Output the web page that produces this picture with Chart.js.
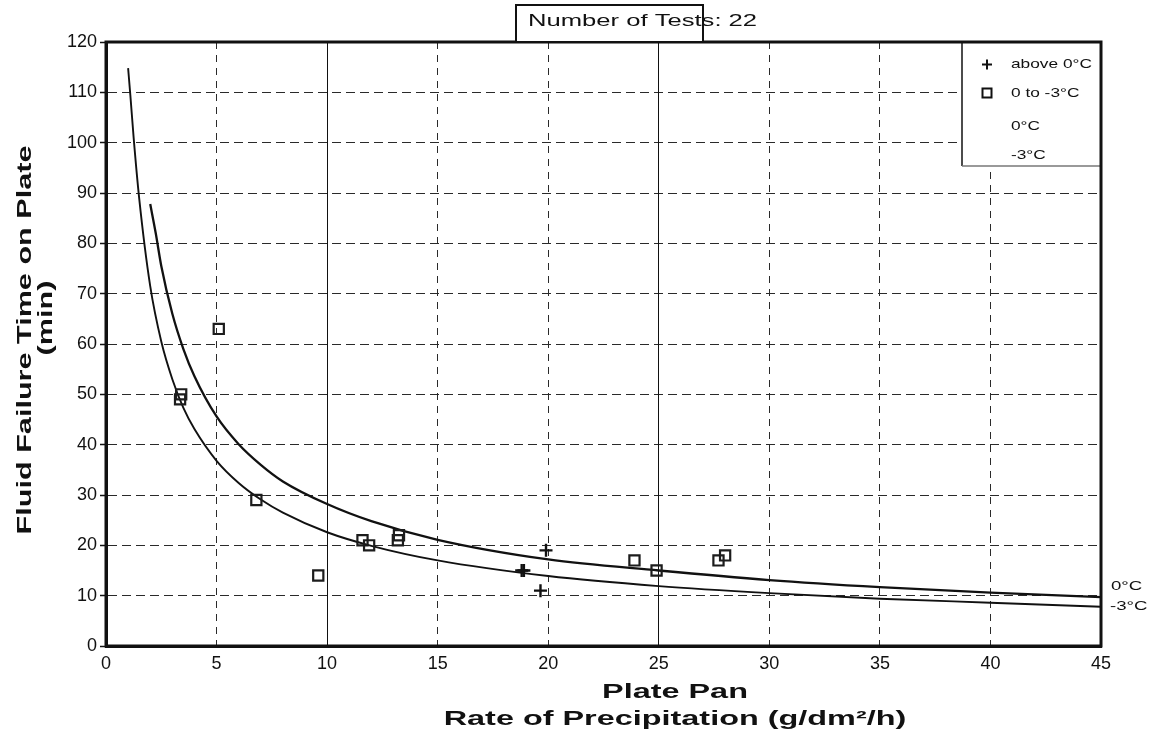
<!DOCTYPE html>
<html>
<head>
<meta charset="utf-8">
<script src="https://cdn.jsdelivr.net/npm/chart.js@4.4.1/dist/chart.umd.min.js"></script>
<style>
  html, body { margin: 0; padding: 0; background: #fff; }
  #wrap { width: 1151px; height: 737px; position: relative; }
</style>
</head>
<body>
<div id="wrap"><canvas id="c"></canvas></div>
<script>
// ---- data ----
const titleText = 'Number of Tests: 22';
const xTitleLines = ['Plate Pan', 'Rate of Precipitation (g/dm²/h)'];
const yTitleLines = ['Fluid Failure Time on Plate', '(min)'];

const seriesLabels = ['above 0°C', '0 to -3°C', '0°C', '-3°C'];

const aboveX = [18.8, 18.9, 19.65, 19.9];
const aboveY = [15, 15, 11, 19];

const belowX = [3.35, 3.4, 5.1, 6.8, 9.6, 11.6, 11.9, 13.2, 13.25, 23.9, 24.9, 27.7, 28.0];
const belowY = [49, 50, 63, 29, 14, 21, 20, 21, 22, 17, 15, 17, 18];

const curve0X = [2, 2.25, 2.5, 3, 3.5, 4, 5, 6, 7, 8, 10, 12, 15, 20, 25, 30, 35, 40, 45];
const curve0Y = [87.8, 82, 75.5, 66, 59, 53.6, 45.6, 40.1, 36.0, 32.7, 28.2, 24.8, 21.1, 17.2, 15.0, 13.1, 11.7, 10.6, 9.7];

const curve3X = [1, 1.1, 1.25, 1.5, 2, 2.5, 3, 3.5, 4, 5, 6, 7, 8, 10, 12, 15, 20, 25, 30, 35, 40, 45];
const curve3Y = [114.8, 109.5, 101, 89, 71.5, 60.5, 53, 47.3, 43.1, 36.8, 32.4, 29.1, 26.5, 22.6, 19.9, 17.0, 13.9, 11.9, 10.5, 9.4, 8.6, 7.8];

const xTickValues = [0, 5, 10, 15, 20, 25, 30, 35, 40, 45];
const yTickValues = [0, 10, 20, 30, 40, 50, 60, 70, 80, 90, 100, 110, 120];
const solidGridX = [10, 25];

// ---- helpers ----
const FONT = '"Liberation Sans", Arial, Helvetica, sans-serif';
const INK = '#111';
const GRID = '#2a2a2a';
const toPts = (xs, ys) => xs.map((x, i) => ({ x: x, y: ys[i] }));

function stretchText(ctx, text, x, y, size, bold, sx, align, rot) {
  ctx.save();
  ctx.translate(x, y);
  if (rot) ctx.rotate(rot);
  ctx.scale(sx, 1);
  ctx.font = (bold ? 'bold ' : '') + size + 'px ' + FONT;
  ctx.textAlign = align;
  ctx.textBaseline = 'middle';
  ctx.fillStyle = INK;
  ctx.fillText(text, 0, 0);
  ctx.restore();
}

const decorPlugin = {
  id: 'decor',
  beforeDatasetsDraw(chart) {
    const { ctx, chartArea: a, scales: { x } } = chart;
    ctx.save();
    ctx.strokeStyle = INK;
    ctx.lineWidth = 1;
    solidGridX.forEach(v => {
      const px = Math.round(x.getPixelForValue(v) - 0.5) + 0.5;
      ctx.beginPath();
      ctx.moveTo(px, a.top);
      ctx.lineTo(px, a.bottom);
      ctx.stroke();
    });
    ctx.restore();
  },
  afterDatasetsDraw(chart) {
    const { ctx, chartArea: a, scales: { x, y } } = chart;
    const ds = chart.data.datasets;
    ctx.save();
    // legend box (inside plot, top-right)
    const lx = 962, ly = a.top, lw = a.right - 962, lh = 124;
    ctx.fillStyle = '#fff';
    ctx.fillRect(lx, ly, lw, lh);
    ctx.strokeStyle = INK;
    ctx.lineWidth = 1.5;
    ctx.beginPath();
    ctx.moveTo(lx, ly); ctx.lineTo(lx, ly + lh);
    ctx.stroke();
    ctx.strokeStyle = '#777';
    ctx.lineWidth = 1.5;
    ctx.beginPath();
    ctx.moveTo(lx, ly + lh); ctx.lineTo(a.right, ly + lh);
    ctx.stroke();
    const rows = [64.5, 93, 126, 155];
    ds.forEach((d, i) => {
      const cy = rows[i];
      const cx = 987;
      ctx.strokeStyle = INK;
      ctx.lineWidth = 2;
      if (d.pointStyle === 'cross') {
        ctx.beginPath();
        ctx.moveTo(cx - 5, cy); ctx.lineTo(cx + 5, cy);
        ctx.moveTo(cx, cy - 5); ctx.lineTo(cx, cy + 5);
        ctx.stroke();
      } else if (d.pointStyle === 'rect') {
        ctx.strokeRect(cx - 4.5, cy - 4.5, 9, 9);
      }
      stretchText(ctx, d.label, 1011, cy, 13.5, false, 1.28, 'left', 0);
    });
    // frame
    ctx.strokeStyle = INK;
    ctx.lineWidth = 3;
    ctx.strokeRect(a.left, a.top, a.right - a.left, a.bottom - a.top);
    // curve end labels
    const c0 = ds[2].data[ds[2].data.length - 1];
    const c3 = ds[3].data[ds[3].data.length - 1];
    stretchText(ctx, ds[2].label, 1111, y.getPixelForValue(c0.y) - 11, 13.5, false, 1.38, 'left', 0);
    stretchText(ctx, ds[3].label, 1110, y.getPixelForValue(c3.y) + 0, 13.5, false, 1.38, 'left', 0);
    ctx.restore();
  },
  afterDraw(chart) {
    const { ctx, chartArea: a } = chart;
    ctx.save();
    // title box
    ctx.fillStyle = '#fff';
    ctx.fillRect(516, 5, 187, a.top - 5);
    stretchText(ctx, titleText, 528, 22, 16, false, 1.6, 'left', 0);
    ctx.strokeStyle = INK;
    ctx.lineWidth = 2;
    ctx.strokeRect(516, 5, 187, a.top - 5);
    // axis titles (stretched like the original)
    const xc = 675;
    stretchText(ctx, xTitleLines[0], xc, 692, 20, true, 1.62, 'center', 0);
    stretchText(ctx, xTitleLines[1], xc, 719, 20, true, 1.62, 'center', 0);
    stretchText(ctx, yTitleLines[0], 25, 340, 20, true, 1.53, 'center', -Math.PI / 2);
    stretchText(ctx, yTitleLines[1], 46, 318, 20, true, 1.53, 'center', -Math.PI / 2);
    ctx.restore();
  }
};

Chart.defaults.font.family = FONT;
Chart.defaults.color = INK;

const gridColor = c => (c.tick && solidGridX.includes(c.tick.value)) ? 'rgba(0,0,0,0)' : GRID;

new Chart(document.getElementById('c'), {
  type: 'scatter',
  data: {
    datasets: [
      { label: seriesLabels[0], data: toPts(aboveX, aboveY), pointStyle: 'cross',
        pointRadius: 6.5, borderColor: INK, borderWidth: 2.4, backgroundColor: INK, showLine: false },
      { label: seriesLabels[1], data: toPts(belowX, belowY), pointStyle: 'rect',
        pointRadius: 7.2, borderColor: '#1c1c1c', borderWidth: 2.2, backgroundColor: 'rgba(0,0,0,0)', showLine: false },
      { label: seriesLabels[2], data: toPts(curve0X, curve0Y), showLine: true, pointRadius: 0,
        borderColor: INK, borderWidth: 2.3, cubicInterpolationMode: 'monotone', fill: false },
      { label: seriesLabels[3], data: toPts(curve3X, curve3Y), showLine: true, pointRadius: 0,
        borderColor: INK, borderWidth: 1.9, cubicInterpolationMode: 'monotone', fill: false }
    ]
  },
  options: {
    responsive: true,
    maintainAspectRatio: false,
    animation: false,
    events: [],
    layout: { padding: { top: 42, right: 50, left: 0, bottom: 0 } },
    plugins: { legend: { display: false }, tooltip: { enabled: false }, title: { display: false } },
    scales: {
      x: {
        type: 'linear', min: 0, max: 45,
        afterBuildTicks: s => { s.ticks = xTickValues.map(v => ({ value: v })); },
        afterFit: s => { s.height = 91; },
        ticks: { font: { size: 18 }, color: INK, padding: 7, maxRotation: 0, autoSkip: false },
        grid: { color: gridColor, lineWidth: 1, drawTicks: false },
        border: { display: true, color: INK, width: 3, dash: [7, 6] }
      },
      y: {
        type: 'linear', min: 0, max: 120,
        afterBuildTicks: s => { s.ticks = yTickValues.map(v => ({ value: v })); },
        afterFit: s => { s.width = 106; },
        ticks: { font: { size: 18 }, color: INK, padding: 3, autoSkip: false },
        grid: { color: GRID, lineWidth: 1, drawTicks: true, tickLength: 6, tickColor: INK, tickWidth: 1.5 },
        border: { display: true, color: INK, width: 3, dash: [9, 5] }
      }
    }
  },
  plugins: [decorPlugin]
});
</script>
</body>
</html>
